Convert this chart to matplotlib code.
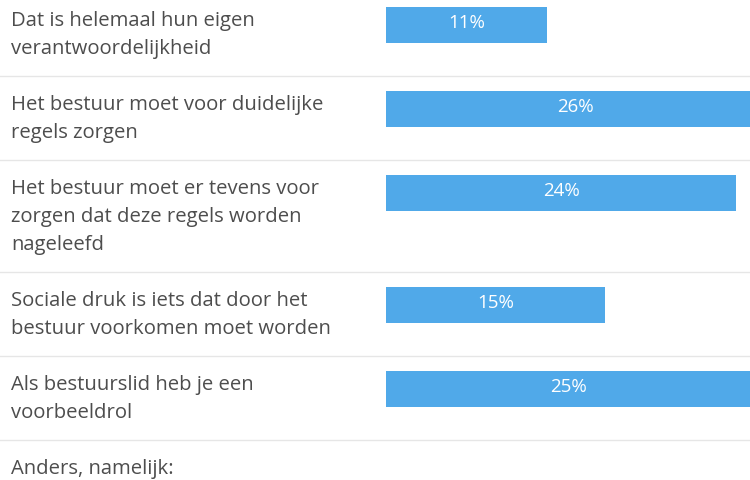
import matplotlib.pyplot as plt

# data
labels = [
    "Dat is helemaal hun eigen\nverantwoordelijkheid",
    "Het bestuur moet voor duidelijke\nregels zorgen",
    "Het bestuur moet er tevens voor\nzorgen dat deze regels worden\nnageleefd",
    "Sociale druk is iets dat door het\nbestuur voorkomen moet worden",
    "Als bestuurslid heb je een\nvoorbeeldrol",
    "Anders, namelijk:",
]
values = [11, 26, 24, 15, 25, None]

plt.rcParams['font.family'] = ['Open Sans', 'DejaVu Sans']

W, H = 750, 481
fig = plt.figure(figsize=(W / 100, H / 100), dpi=100)
fig.patch.set_facecolor('white')

# full-figure axes for labels and separators (pixel coords)
ax_lab = fig.add_axes([0, 0, 1, 1])
ax_lab.set_xlim(0, W)
ax_lab.set_ylim(H, 0)
ax_lab.axis('off')

# bar axes
bar_x0 = 386
px_per_pct = 14.6
ax_bar = fig.add_axes([bar_x0 / W, 0, (W - bar_x0) / W, 1])
ax_bar.set_xlim(0, (W - bar_x0) / px_per_pct)
ax_bar.set_ylim(H, 0)
ax_bar.axis('off')

line_h = 28
top = -7
bar_color = '#50a9e9'
for lab, val in zip(labels, values):
    n = lab.count('\n') + 1
    # label text
    for k, line in enumerate(lab.split('\n')):
        ax_lab.text(11, top + 28 + k * line_h, line, fontsize=14.6,
                    color='#4d4d4d', ha='left', va='center')
    if val is not None:
        yc = top + 15 + 18
        ax_bar.barh(yc, val, height=36, color=bar_color, left=0)
        ax_bar.text(val / 2, yc - 3, f'{val}%', color='white', fontsize=13.5,
                    ha='center', va='center')
    top += 28 + line_h * n
    if top < H - 20:
        ax_lab.axhline(top, color='#e6e6e6', linewidth=1)

fig.savefig('out.png', dpi=100)
